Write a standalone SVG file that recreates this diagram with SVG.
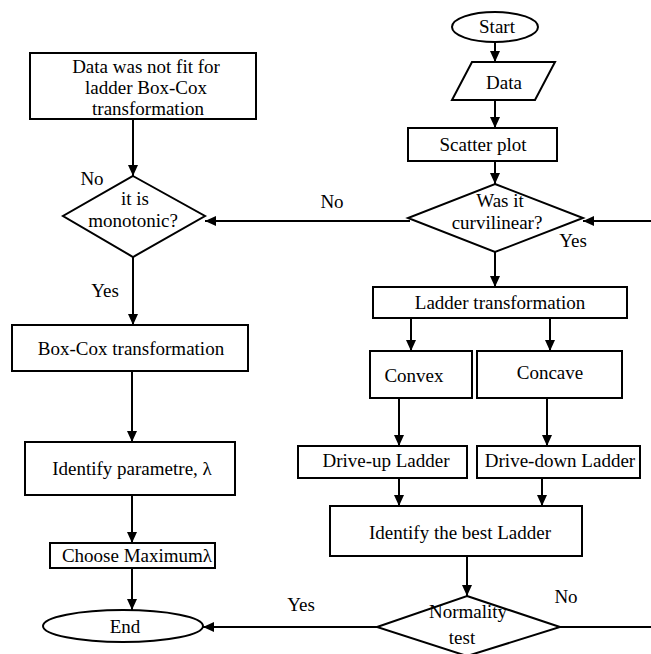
<svg xmlns="http://www.w3.org/2000/svg" width="651" height="654" viewBox="0 0 651 654">
<defs>
<marker id="arr" markerUnits="userSpaceOnUse" markerWidth="11" markerHeight="10" refX="11" refY="5" orient="auto">
<path d="M0,0 L11,5 L0,10 z" fill="#000"/>
</marker>
<style>
.n{fill:#fff;stroke:#000;stroke-width:2}
.t{font-family:"Liberation Serif","Times New Roman",serif;font-size:19px;fill:#000;text-anchor:middle}
.c path{fill:none;stroke:#000;stroke-width:2}
</style>
</defs>
<rect width="651" height="654" fill="#fff"/>
<g class="c" id="connectors">
<path d="M495,42 V62" marker-end="url(#arr)"/>
<path d="M495,100 V128" marker-end="url(#arr)"/>
<path d="M495,161 V184" marker-end="url(#arr)"/>
<path d="M495,252 V287" marker-end="url(#arr)"/>
<path d="M411,318 V351" marker-end="url(#arr)"/>
<path d="M550,318 V351" marker-end="url(#arr)"/>
<path d="M399,398 V446" marker-end="url(#arr)"/>
<path d="M547,398 V446" marker-end="url(#arr)"/>
<path d="M399,478 V506" marker-end="url(#arr)"/>
<path d="M542,478 V506" marker-end="url(#arr)"/>
<path d="M467,556 V596" marker-end="url(#arr)"/>
<path d="M377,627 H203" marker-end="url(#arr)"/>
<path d="M560,627 H651"/>
<path d="M651,221 H583" marker-end="url(#arr)"/>
<path d="M410,221 H205" marker-end="url(#arr)"/>
<path d="M133,119 V176" marker-end="url(#arr)"/>
<path d="M133,257 V325" marker-end="url(#arr)"/>
<path d="M132,371 V442" marker-end="url(#arr)"/>
<path d="M132,495 V543" marker-end="url(#arr)"/>
<path d="M132,568 V610" marker-end="url(#arr)"/>
</g>
<g id="start"><ellipse class="n" cx="495" cy="27" rx="43" ry="15"/><text class="t" x="497" y="33">Start</text></g>
<g id="data"><polygon class="n" points="472,62 555,62 535,100 452,100"/><text class="t" x="504" y="89">Data</text></g>
<g id="scatter"><rect class="n" x="408" y="128" width="149" height="33"/><text class="t" x="483" y="151">Scatter plot</text></g>
<g id="curvilinear"><polygon class="n" points="495,184 583,218 495,252 408,218"/><text class="t" x="500" y="207">Was it</text><text class="t" x="497" y="229">curvilinear?</text></g>
<g id="ladder"><rect class="n" x="373" y="287" width="254" height="31"/><text class="t" x="500" y="309">Ladder transformation</text></g>
<g id="convex"><rect class="n" x="370" y="351" width="102" height="47"/><text class="t" x="414" y="382">Convex</text></g>
<g id="concave"><rect class="n" x="477" y="351" width="145" height="47"/><text class="t" x="550" y="379">Concave</text></g>
<g id="driveup"><rect class="n" x="298" y="446" width="169" height="32"/><text class="t" x="386" y="467">Drive-up Ladder</text></g>
<g id="drivedown"><rect class="n" x="477" y="446" width="163" height="32"/><text class="t" x="560" y="467">Drive-down Ladder</text></g>
<g id="bestladder"><rect class="n" x="330" y="506" width="252" height="50"/><text class="t" x="460" y="539">Identify the best Ladder</text></g>
<g id="normality"><polygon class="n" points="467,596 560,627 467,656 377,627"/><text class="t" x="468" y="618">Normality</text><text class="t" x="462" y="644">test</text></g>
<g id="end"><ellipse class="n" cx="123" cy="626" rx="80" ry="16"/><text class="t" x="125" y="633">End</text></g>
<g id="notfit"><rect class="n" x="30" y="53" width="226" height="66"/><text class="t" x="146" y="73">Data was not fit for</text><text class="t" x="146" y="94">ladder Box-Cox</text><text class="t" x="148" y="115">transformation</text></g>
<g id="monotonic"><polygon class="n" points="133,176 205,216 133,257 63,216"/><text class="t" x="135" y="205">it is</text><text class="t" x="133" y="227">monotonic?</text></g>
<g id="boxcox"><rect class="n" x="12" y="325" width="236" height="46"/><text class="t" x="131" y="355">Box-Cox transformation</text></g>
<g id="identparam"><rect class="n" x="25" y="442" width="210" height="53"/><text class="t" x="132" y="475">Identify parametre, λ</text></g>
<g id="choose"><rect class="n" x="50" y="543" width="165" height="25"/><text class="t" x="137" y="562">Choose Maximumλ</text></g>
<g id="labels">
<text class="t" x="92" y="185">No</text>
<text class="t" x="105" y="297">Yes</text>
<text class="t" x="332" y="208">No</text>
<text class="t" x="573" y="247">Yes</text>
<text class="t" x="301" y="611">Yes</text>
<text class="t" x="566" y="603">No</text>
</g>
</svg>
